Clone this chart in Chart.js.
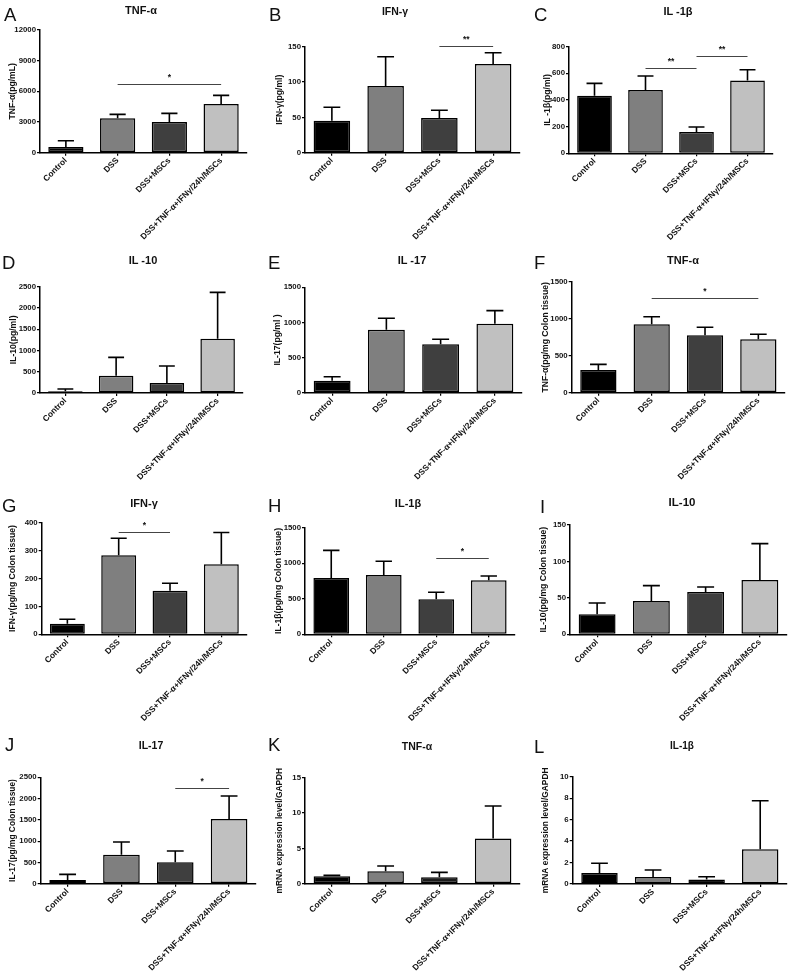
<!DOCTYPE html>
<html><head><meta charset="utf-8">
<script src="https://cdn.jsdelivr.net/npm/chart.js@4.4.1/dist/chart.umd.min.js"></script>
<style>
html,body{margin:0;padding:0;background:#fff;}
body{width:797px;height:973px;position:relative;overflow:hidden;font-family:"Liberation Sans",Arial,sans-serif;}
canvas{position:absolute;}
.letter{position:absolute;font-size:18.5px;line-height:18.5px;color:#111;}
.title{position:absolute;font-weight:bold;transform:translate(-50%,-50%);white-space:nowrap;color:#111;}
</style></head><body>
<script>
const categories = ["Control", "DSS", "DSS+MSCs", "DSS+TNF-α+IFNγ/24h/MSCs"];

// A: serum TNF-α (pg/mL)
const tnfSerumMean = [550, 3360, 3000, 4760];
const tnfSerumErr  = [620, 390, 850, 850];
const tnfSerumTicks = [0, 3000, 6000, 9000, 12000];
// B: serum IFN-γ (pg/ml)
const ifnSerumMean = [45.3, 94.3, 49, 125.5];
const ifnSerumErr  = [19, 41.5, 11, 16];
const ifnSerumTicks = [0, 50, 100, 150];
// C: serum IL-1β (pg/ml)
const il1bSerumMean = [432, 475, 160, 547];
const il1bSerumErr  = [93, 105, 37, 80];
const il1bSerumTicks = [0, 200, 400, 600, 800];
// D: serum IL-10 (pg/ml)
const il10SerumMean = [39, 407, 235, 1277];
const il10SerumErr  = [55, 431, 400, 1090];
const il10SerumTicks = [0, 500, 1000, 1500, 2000, 2500];
// E: serum IL-17 (pg/ml)
const il17SerumMean = [171, 897, 688, 983];
const il17SerumErr  = [57, 162, 72, 185];
const il17SerumTicks = [0, 500, 1000, 1500];
// F: colon TNF-α
const tnfColonMean = [307, 926, 777, 723];
const tnfColonErr  = [77, 104, 109, 68];
const tnfColonTicks = [0, 500, 1000, 1500];
// G: colon IFN-γ
const ifnColonMean = [38, 283, 156, 251];
const ifnColonErr  = [16, 61, 27, 114];
const ifnColonTicks = [0, 100, 200, 300, 400];
// H: colon IL-1β
const il1bColonMean = [792, 834, 492, 762];
const il1bColonErr  = [389, 193, 99, 58];
const il1bColonTicks = [0, 500, 1000, 1500];
// I: colon IL-10
const il10ColonMean = [27.4, 45.7, 58, 74.6];
const il10ColonErr  = [15.6, 21.1, 7, 49.8];
const il10ColonTicks = [0, 50, 100, 150];
// J: colon IL-17
const il17ColonMean = [86, 682, 502, 1520];
const il17ColonErr  = [134, 298, 266, 541];
const il17ColonTicks = [0, 500, 1000, 1500, 2000, 2500];
// K: TNF-α mRNA
const tnfMrnaMean = [1.04, 1.75, 0.9, 6.4];
const tnfMrnaErr  = [0.14, 0.75, 0.7, 4.6];
const tnfMrnaTicks = [0, 5, 10, 15];
// L: IL-1β mRNA
const il1bMrnaMean = [1.02, 0.65, 0.43, 3.23];
const il1bMrnaErr  = [0.91, 0.65, 0.25, 4.53];
const il1bMrnaTicks = [0, 2, 4, 6, 8, 10];

// significance brackets: [fromIndex, toIndex, value level, label]
const sigA = [[1, 3, 6680, "*"]];
const sigB = [[2, 3, 151.4, "**"]];
const sigC = [[1, 2, 642, "**"], [2, 3, 732, "**"]];
const sigF = [[1, 3, 1282, "*"]];
const sigG = [[1, 2, 365, "*"]];
const sigH = [[2, 3, 1078, "*"]];
const sigJ = [[2, 3, 2241, "*"]];

const FONT = "'Liberation Sans', Arial, sans-serif";
const barColors = ["#000000", "#7f7f7f", "#3f3f3f", "#c0c0c0"];
const barColorsMrna = ["#000000", "#7f7f7f", "#1c1c1c", "#c0c0c0"];

const panels = [
  {letter:"A", title:"TNF-α", ytitle:"TNF-α(pg/mL)", mean:tnfSerumMean, err:tnfSerumErr, ticks:tnfSerumTicks, sig:sigA,
   box:[0,0,265,255], area:[40,30,247,152.7], yTitleX:13, ytSize:8.6, lpos:[4,6], tpos:[141,10], tsize:11},
  {letter:"B", title:"IFN-γ", ytitle:"IFN-γ(pg/ml)", mean:ifnSerumMean, err:ifnSerumErr, ticks:ifnSerumTicks, sig:sigB,
   box:[265,0,265,255], area:[305,46.7,520,152.7], yTitleX:280, ytSize:8.6, lpos:[269,6], tpos:[395,11], tsize:10.5},
  {letter:"C", title:"IL -1β", ytitle:"IL -1β(pg/ml)", mean:il1bSerumMean, err:il1bSerumErr, ticks:il1bSerumTicks, sig:sigC,
   box:[530,0,267,255], area:[569,46.7,773,153.3], yTitleX:548, ytSize:8.6, lpos:[534,6], tpos:[678,11], tsize:11},
  {letter:"D", title:"IL -10", ytitle:"IL-10(pg/ml)", mean:il10SerumMean, err:il10SerumErr, ticks:il10SerumTicks, sig:[],
   box:[0,230,265,255], area:[40,286.7,243,393], yTitleX:13.7, ytSize:8.6, lpos:[2,254], tpos:[143,260], tsize:11},
  {letter:"E", title:"IL -17", ytitle:"IL-17(pg/ml )", mean:il17SerumMean, err:il17SerumErr, ticks:il17SerumTicks, sig:[],
   box:[265,230,265,255], area:[305,287.3,522,392.7], yTitleX:278, ytSize:8.6, lpos:[268,254], tpos:[412,260], tsize:11},
  {letter:"F", title:"TNF-α", ytitle:"TNF-α(pg/mg Colon tissue)", mean:tnfColonMean, err:tnfColonErr, ticks:tnfColonTicks, sig:sigF,
   box:[530,230,267,255], area:[571.7,282,785,392.7], yTitleX:546, ytSize:8.6, lpos:[534,254], tpos:[683,260], tsize:11},
  {letter:"G", title:"IFN-γ", ytitle:"IFN-γ(pg/mg Colon tissue)", mean:ifnColonMean, err:ifnColonErr, ticks:ifnColonTicks, sig:sigG,
   box:[0,470,265,255], area:[41.7,522.7,247,634.3], yTitleX:12.8, ytSize:8.6, lpos:[2,497], tpos:[144,503], tsize:11},
  {letter:"H", title:"IL-1β", ytitle:"IL-1β(pg/mg Colon tissue)", mean:il1bColonMean, err:il1bColonErr, ticks:il1bColonTicks, sig:sigH,
   box:[265,470,265,255], area:[305,527.7,515,634.3], yTitleX:279, ytSize:8.6, lpos:[268,497], tpos:[408,503], tsize:11},
  {letter:"I", title:"IL-10", ytitle:"IL-10(pg/mg Colon tissue)", mean:il10ColonMean, err:il10ColonErr, ticks:il10ColonTicks, sig:[],
   box:[530,470,267,255], area:[570,525,787,634.3], yTitleX:544, ytSize:8.6, lpos:[540,498], tpos:[682,503], tsize:11.5},
  {letter:"J", title:"IL-17", ytitle:"IL-17(pg/mg Colon tissue)", mean:il17ColonMean, err:il17ColonErr, ticks:il17ColonTicks, sig:sigJ,
   box:[0,720,265,253], area:[40.7,777.3,256,883.7], yTitleX:12.5, ytSize:8.4, lpos:[5,736], tpos:[151,745], tsize:10.5},
  {letter:"K", title:"TNF-α", ytitle:"mRNA expression level/GAPDH", mean:tnfMrnaMean, err:tnfMrnaErr, ticks:tnfMrnaTicks, sig:[],
   box:[265,720,265,253], area:[305,777.7,520,883.7], yTitleX:279.5, ytSize:8.4, lpos:[268,736], tpos:[417,746], tsize:10.5, colors:barColorsMrna},
  {letter:"L", title:"IL-1β", ytitle:"mRNA expression level/GAPDH", mean:il1bMrnaMean, err:il1bMrnaErr, ticks:il1bMrnaTicks, sig:[],
   box:[530,720,267,253], area:[572.7,776.7,787,884], yTitleX:545.5, ytSize:8.4, lpos:[534,738], tpos:[682,746], tsize:10, colors:barColorsMrna}
];

const errPlugin = {
  id: "errbars",
  afterDatasetsDraw(chart, args, opts) {
    const ctx = chart.ctx;
    const ys = chart.scales.y;
    const meta = chart.getDatasetMeta(0);
    const vals = chart.data.datasets[0].data;
    ctx.save();
    ctx.strokeStyle = "#000";
    ctx.lineWidth = 1.6;
    meta.data.forEach((bar, i) => {
      const base = ys.getPixelForValue(vals[i]);
      const top = ys.getPixelForValue(vals[i] + opts.err[i]);
      const hw = bar.width * 0.23;
      ctx.beginPath();
      ctx.moveTo(bar.x, base); ctx.lineTo(bar.x, top);
      ctx.moveTo(bar.x - hw, top); ctx.lineTo(bar.x + hw, top);
      ctx.stroke();
    });
    ctx.lineWidth = 1;
    ctx.strokeStyle = "#444";
    ctx.fillStyle = "#111";
    ctx.font = "bold 8.5px " + FONT;
    ctx.textAlign = "center";
    ctx.textBaseline = "bottom";
    (opts.sig || []).forEach(s => {
      const x1 = meta.data[s[0]].x, x2 = meta.data[s[1]].x;
      const y = Math.round(ys.getPixelForValue(s[2])) + 0.5;
      ctx.beginPath(); ctx.moveTo(x1, y); ctx.lineTo(x2, y); ctx.stroke();
      ctx.fillText(s[3], (x1 + x2) / 2, y - 3);
    });
    ctx.restore();
  }
};

panels.forEach(p => {
  const [cl, ct, cw, ch] = p.box;
  const [L, T, R, B] = p.area;
  const c = document.createElement("canvas");
  c.width = cw; c.height = ch;
  c.style.left = cl + "px"; c.style.top = ct + "px";
  c.style.width = cw + "px"; c.style.height = ch + "px";
  document.body.appendChild(c);

  const lt = document.createElement("div");
  lt.className = "letter"; lt.textContent = p.letter;
  lt.style.left = p.lpos[0] + "px"; lt.style.top = p.lpos[1] + "px";
  document.body.appendChild(lt);

  const tt = document.createElement("div");
  tt.className = "title"; tt.textContent = p.title;
  tt.style.left = p.tpos[0] + "px"; tt.style.top = p.tpos[1] + "px";
  tt.style.fontSize = p.tsize + "px"; tt.style.lineHeight = p.tsize + "px";
  document.body.appendChild(tt);

  const step = p.ticks[1] - p.ticks[0];
  const ymax = p.ticks[p.ticks.length - 1];

  new Chart(c, {
    type: "bar",
    data: {
      labels: categories,
      datasets: [{
        data: p.mean,
        backgroundColor: p.colors || barColors,
        borderColor: "#000",
        borderWidth: 1.5,
        borderSkipped: false,
        barPercentage: 0.68,
        categoryPercentage: 1
      }]
    },
    options: {
      responsive: false,
      animation: false,
      devicePixelRatio: 1,
      layout: { padding: { left: 0, top: T - ct, right: cl + cw - R, bottom: 0 } },
      plugins: {
        legend: { display: false },
        tooltip: { enabled: false },
        errbars: { err: p.err, sig: p.sig }
      },
      scales: {
        x: {
          grid: { display: true, drawOnChartArea: false, drawTicks: true, tickLength: 3, offset: false, color: "#000", lineWidth: 1.2 },
          border: { display: true, color: "#000", width: 1.5 },
          ticks: { autoSkip: false, maxRotation: 45, minRotation: 45, padding: 0, color: "#111",
                   font: { family: FONT, size: 8.4, weight: "bold" } },
          afterFit: s => { s.height = ch - (B - ct); }
        },
        y: {
          min: 0, max: ymax,
          grid: { display: true, drawOnChartArea: false, drawTicks: true, tickLength: 3, color: "#000", lineWidth: 1.2 },
          border: { display: true, color: "#000", width: 1.5 },
          ticks: { stepSize: step, padding: 1, color: "#111", font: { family: FONT, size: 7.8, weight: "bold" },
                   callback: v => String(v) },
          title: { display: true, text: p.ytitle, color: "#111",
                   font: { family: FONT, size: p.ytSize, weight: "bold" },
                   padding: { top: (p.yTitleX - cl) - p.ytSize * 0.6, bottom: 0 } },
          afterFit: s => { s.width = L - cl; }
        }
      }
    },
    plugins: [errPlugin]
  });
});
</script>
</body></html>
